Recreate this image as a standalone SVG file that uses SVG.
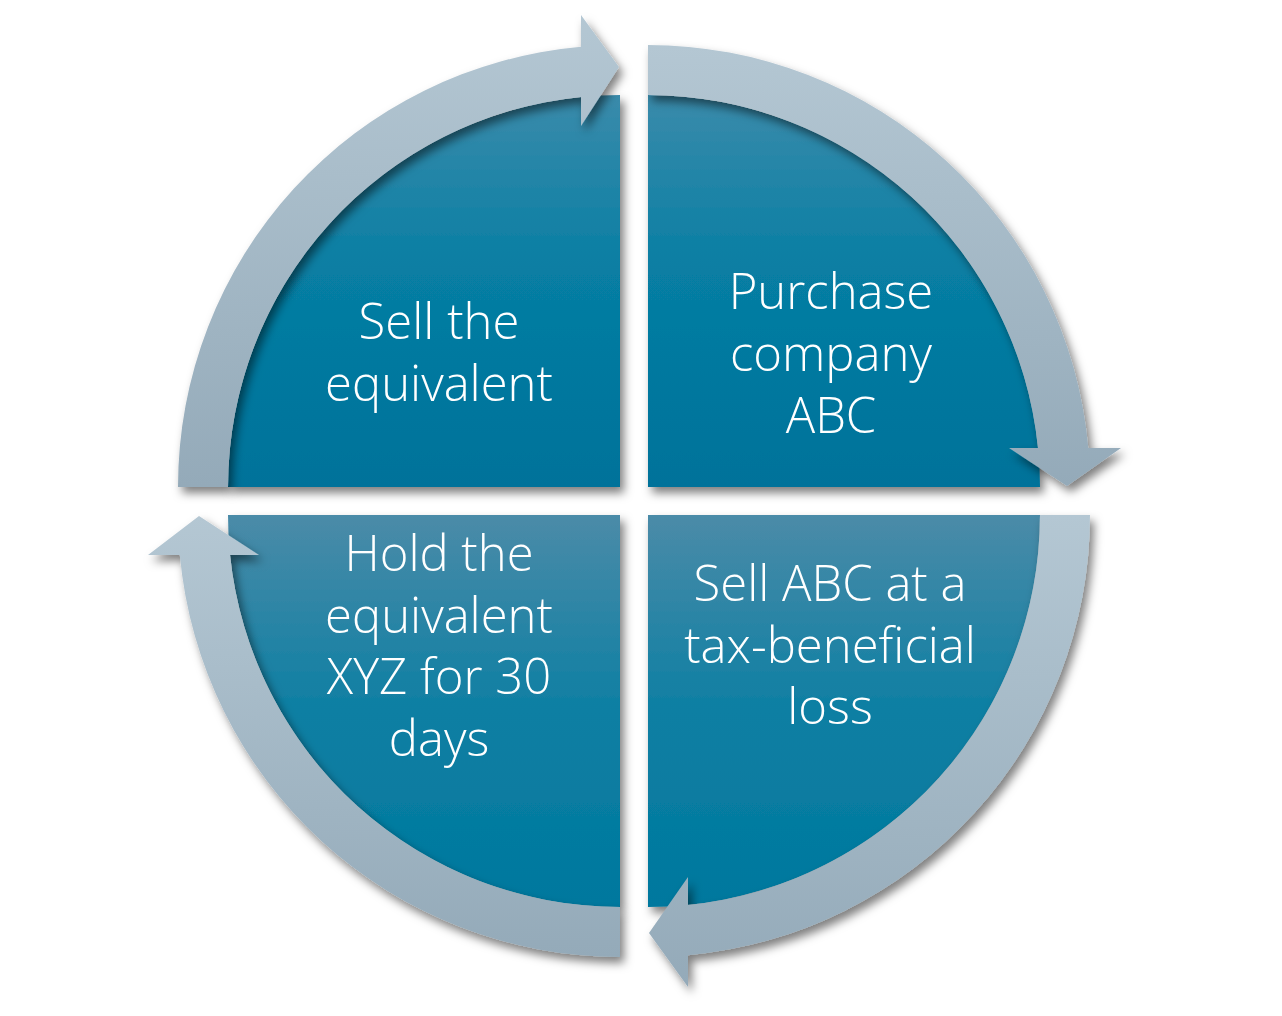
<svg xmlns="http://www.w3.org/2000/svg" width="1282" height="1016" viewBox="0 0 1282 1016">
<style>
.lbl{font-family:"Open Sans","Liberation Sans",sans-serif;font-weight:300;font-size:49px;fill:#ffffff;text-anchor:middle}
.qt{fill:url(#gTop);filter:url(#sh)}
.qb{fill:url(#gBot);filter:url(#sh)}
.ring{fill:url(#gRing);filter:url(#sh)}
</style>
<defs>
<linearGradient id="gTop" x1="0" y1="0" x2="0" y2="1">
<stop offset="0" stop-color="#3a8bab"/>
<stop offset="0.45" stop-color="#077ea3"/>
<stop offset="1" stop-color="#00729a"/>
</linearGradient>
<linearGradient id="gBot" x1="0" y1="0" x2="0" y2="1">
<stop offset="0" stop-color="#4b8ba8"/>
<stop offset="0.5" stop-color="#0d7fa3"/>
<stop offset="1" stop-color="#00789e"/>
</linearGradient>
<linearGradient id="gRing" x1="0" y1="0" x2="0" y2="1">
<stop offset="0" stop-color="#b4c7d3"/>
<stop offset="1" stop-color="#94aab9"/>
</linearGradient>
<filter id="sh" x="-10%" y="-10%" width="125%" height="125%">
<feDropShadow dx="4" dy="6" stdDeviation="5" flood-color="#000" flood-opacity="0.5"/>
</filter>
</defs>
<rect width="1282" height="1016" fill="#ffffff"/>
<g id="node-sell-equivalent">
<path class="qt" d="M620,487 L228,487 A392,392 0 0 1 620,95 Z"/>
<text class="lbl" x="439" y="339">Sell the</text>
<text class="lbl" x="439" y="401">equivalent</text>
</g>
<g id="node-purchase">
<path class="qt" d="M648,487 L648,95 A392,392 0 0 1 1040,487 Z"/>
<text class="lbl" x="831" y="309">Purchase</text>
<text class="lbl" x="831" y="371">company</text>
<text class="lbl" x="831" y="433">ABC</text>
</g>
<g id="node-sell-abc">
<path class="qb" d="M648,515 L1040,515 A392,392 0 0 1 648,907 Z"/>
<text class="lbl" x="830" y="601">Sell ABC at a</text>
<text class="lbl" x="830" y="663">tax-beneficial</text>
<text class="lbl" x="830" y="724">loss</text>
</g>
<g id="node-hold">
<path class="qb" d="M620,515 L620,907 A392,392 0 0 1 228,515 Z"/>
<text class="lbl" x="439" y="571">Hold the</text>
<text class="lbl" x="439" y="633">equivalent</text>
<text class="lbl" x="439" y="694">XYZ for 30</text>
<text class="lbl" x="439" y="756">days</text>
</g>
<g id="connectors">
<path class="ring" d="M178,487 A442,442 0 0 1 581,46.7 L581,15 L619,67 L581,126 L581,96.9 A392,392 0 0 0 228,487 Z"/>
<path class="ring" d="M648,45 A442,442 0 0 1 1088.3,448 L1121,448 L1067,486 L1009,448 L1038,448 A392,392 0 0 0 648,95 Z"/>
<path class="ring" d="M1090,515 A442,442 0 0 1 688,955.2 L688,987 L649,933 L688,877 L688,905 A392,392 0 0 0 1040,515 Z"/>
<path class="ring" d="M620,957 A442,442 0 0 1 179.8,555 L148,555 L199,516 L259,555 L230,555 A392,392 0 0 0 620,907 Z"/>
</g>
</svg>
